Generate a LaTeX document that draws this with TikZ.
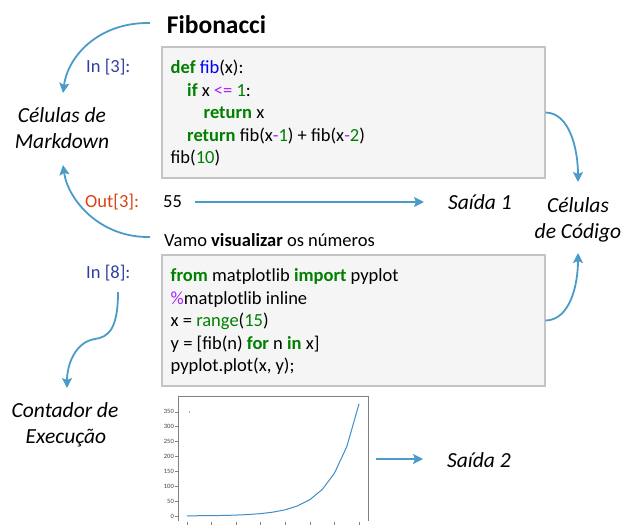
\documentclass[tikz,border=0pt]{standalone}
\usepackage{fontspec}
\setmainfont{Carlito}
\usetikzlibrary{arrows.meta}
\definecolor{arr}{HTML}{4B9BC8}
\definecolor{boxfill}{HTML}{F5F5F5}
\definecolor{boxline}{HTML}{C4C4C4}
\definecolor{kwgreen}{HTML}{008000}
\definecolor{fnblue}{HTML}{0000FF}
\definecolor{oppurple}{HTML}{AA22FF}
\definecolor{inblue}{HTML}{303F9F}
\definecolor{outred}{HTML}{D84315}
\definecolor{plotblue}{HTML}{3F8CC6}
\definecolor{axgray}{HTML}{808080}
\newcommand{\pkw}[1]{{\bfseries\color{kwgreen}#1}}
\newcommand{\pfn}[1]{{\color{fnblue}#1}}
\newcommand{\pop}[1]{{\color{oppurple}#1}}
\newcommand{\pnum}[1]{{\color{kwgreen}#1}}
\begin{document}
\begin{tikzpicture}[x=1pt,y=-1pt,
  codebox/.style={draw=boxline, fill=boxfill, line width=1.3pt, inner sep=0pt},
  code/.style={anchor=base west, inner sep=0pt, font=\fontsize{18.5}{22}\selectfont},
  lbl/.style={anchor=base, inner sep=0pt, font=\fontsize{21.5}{26}\selectfont\itshape},
  prompt/.style={anchor=base west, inner sep=0pt, font=\fontsize{18.5}{22}\selectfont},
  flow/.style={draw=arr, line width=1.8pt, -{Stealth[length=10pt,width=10pt,inset=2pt]}},
  ticklbl/.style={anchor=east, inner sep=0pt, font=\fontsize{6.5}{7}\selectfont, text=black!75}]
\useasboundingbox (0,0) rectangle (625,525);

% title
\node[anchor=base, inner sep=0pt, font=\fontsize{25.5}{30}\selectfont\bfseries] (title) at (216.5,33) {Fibonacci};

% code cells
\node[codebox, minimum width=383pt, minimum height=131pt] (cell1) at (353.5,112.5) {};
\node[codebox, minimum width=383pt, minimum height=131pt] (cell2) at (353.5,320.5) {};

\node[code] (c11) at (170.5,73.5) {\pkw{def} \pfn{fib}(x):};
\node[code] (c12) at (170.5,96) {\hspace*{16.5pt}\pkw{if} x \pop{<=} \pnum{1}:};
\node[code] (c13) at (170.5,118.5) {\hspace*{33pt}\pkw{return} x};
\node[code] (c14) at (170.5,141) {\hspace*{16.5pt}\pkw{return} fib(x\pop{-}\pnum{1}) + fib(x\pop{-}\pnum{2})};
\node[code] (c15) at (170.5,163.5) {fib(\pnum{10})};

\node[code] (c21) at (170.5,281.5) {\pkw{from} matplotlib \pkw{import} pyplot};
\node[code] (c22) at (170.5,304) {\pop{\%}matplotlib inline};
\node[code] (c23) at (170.5,326.5) {x = \pnum{range}(\pnum{15})};
\node[code] (c24) at (170.5,349) {y = [fib(n) \pkw{for} n \pkw{in} x]};
\node[code] (c25) at (170.5,371.5) {pyplot.plot(x, y);};

% prompts and plain text
\node[prompt, text=inblue] (in3) at (86,72) {In [3]:};
\node[prompt, text=outred] (out3) at (85,207) {Out[3]:};
\node[prompt] (res55) at (163,207) {55};
\node[prompt] (md) at (164,246) {Vamo \textbf{visualizar} os números};
\node[prompt, text=inblue] (in8) at (86,278) {In [8]:};

% italic labels
\node[lbl] (mk1) at (62,122) {Células de};
\node[lbl] (mk2) at (62,148) {Markdown};
\node[lbl] (cc1) at (578,212) {Células};
\node[lbl] (cc2) at (578,238) {de Código};
\node[lbl] (ce1) at (65,417) {Contador de};
\node[lbl] (ce2) at (66,443) {Execução};
\node[lbl, anchor=base west] (s1) at (448,209) {Saída 1};
\node[lbl, anchor=base west] (s2) at (447,467) {Saída 2};

% connector end points
\coordinate (a1s) at (150,23);
\coordinate (a1e) at (63,93);
\coordinate (a2s) at (150,237);
\coordinate (a2e) at (63,165);
\coordinate (a3e) at (578,182);
\coordinate (a4e) at (578,253);
\coordinate (a5s) at (118,292);
\coordinate (a5m) at (95,339);
\coordinate (a5e) at (67,388);
\coordinate (a6s) at (195,202);
\coordinate (a6e) at (424,202);
\coordinate (a7s) at (376,459);
\coordinate (a7e) at (423,459);

\draw[flow] (a1s) .. controls (100,22) and (68,55) .. (a1e);
\draw[flow] (a2s) .. controls (100,238) and (68,200) .. (a2e);
\draw[flow] (cell1.east) .. controls (570,113) and (578,150) .. (a3e);
\draw[flow] (cell2.east) .. controls (570,320) and (578,285) .. (a4e);
\draw[flow] (a5s) .. controls (118,330) and (108,337) .. (a5m) .. controls (75,342) and (67,365) .. (a5e);
\draw[flow] (a6s) -- (a6e);
\draw[flow] (a7s) -- (a7e);

% plot
\draw[axgray, line width=0.8pt] (178,521) -- (178,396) -- (368,396) -- (368,521);
\foreach \v in {0,50,...,350} {
  \draw[axgray, line width=0.6pt] (175,{516-0.2975*\v}) -- (178,{516-0.2975*\v});
  \node[ticklbl] (yt\v) at (174,{516-0.2975*\v}) {\v};
}
\foreach \k in {0,2,...,14} {
  \draw[axgray, line width=0.6pt] ({187+12.29*\k},522) -- ({187+12.29*\k},525);
}
\draw[plotblue, line width=1pt, line join=round] plot coordinates {
 (187,516) (199.29,515.70) (211.58,515.70) (223.87,515.41) (236.16,515.11)
 (248.45,514.51) (260.74,513.62) (273.03,512.13) (285.32,509.75) (297.61,505.89)
 (309.9,499.64) (322.19,489.52) (334.48,473.16) (346.77,446.68) (359.06,403.84)};
\draw[plotblue!60, line width=0.6pt] (189,410.5) -- (189,413);
\end{tikzpicture}
\end{document}
